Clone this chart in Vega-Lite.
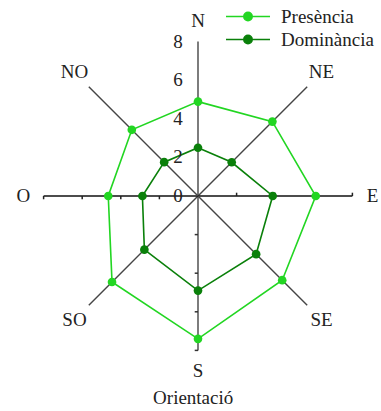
{
  "$schema": "https://vega.github.io/schema/vega-lite/v6.json",
  "width": 381,
  "height": 411,
  "autosize": {"type": "none"},
  "padding": 0,
  "background": "white",
  "config": {"view": {"stroke": null}, "font": "Liberation Serif, Times New Roman, serif"},
  "datasets": {
    "dirs": [
      {"dir": "N"}, {"dir": "NE"}, {"dir": "E"}, {"dir": "SE"},
      {"dir": "S"}, {"dir": "SO"}, {"dir": "O"}, {"dir": "NO"}
    ],
    "series": [
      {"serie": "Presència", "dir": "N", "valor": 4.89},
      {"serie": "Presència", "dir": "NE", "valor": 5.45},
      {"serie": "Presència", "dir": "E", "valor": 6.1},
      {"serie": "Presència", "dir": "SE", "valor": 6.17},
      {"serie": "Presència", "dir": "S", "valor": 7.4},
      {"serie": "Presència", "dir": "SO", "valor": 6.3},
      {"serie": "Presència", "dir": "O", "valor": 4.65},
      {"serie": "Presència", "dir": "NO", "valor": 4.85},
      {"serie": "Dominància", "dir": "N", "valor": 2.5},
      {"serie": "Dominància", "dir": "NE", "valor": 2.47},
      {"serie": "Dominància", "dir": "E", "valor": 3.87},
      {"serie": "Dominància", "dir": "SE", "valor": 4.26},
      {"serie": "Dominància", "dir": "S", "valor": 4.9},
      {"serie": "Dominància", "dir": "SO", "valor": 3.93},
      {"serie": "Dominància", "dir": "O", "valor": 2.88},
      {"serie": "Dominància", "dir": "NO", "valor": 2.48}
    ],
    "ticksH": [{"t": -8}, {"t": -6}, {"t": -4}, {"t": -2}, {"t": 2}, {"t": 4}, {"t": 6}, {"t": 8}],
    "ticksV": [{"t": -2}, {"t": -4}, {"t": -6}, {"t": -8}],
    "labelsR": [{"t": 0}, {"t": 2}, {"t": 4}, {"t": 6}, {"t": 8}]
  },
  "layer": [
    {
      "data": {"name": "dirs"},
      "transform": [
        {"calculate": "indexof(['N','NE','E','SE','S','SO','O','NO'], datum.dir) * PI / 4", "as": "a"},
        {"calculate": "8 * sin(datum.a)", "as": "ex"},
        {"calculate": "8 * cos(datum.a)", "as": "ey"},
        {"calculate": "0", "as": "z"}
      ],
      "mark": {"type": "rule", "strokeWidth": 1.4},
      "encoding": {
        "x": {"field": "z", "type": "quantitative", "scale": {"domain": [-10.259, 9.482], "nice": false, "zero": false}, "axis": null},
        "y": {"field": "z", "type": "quantitative", "scale": {"domain": [-11.14, 10.155], "nice": false, "zero": false}, "axis": null},
        "x2": {"field": "ex"},
        "y2": {"field": "ey"},
        "color": {"condition": {"test": "datum.dir == 'E' || datum.dir == 'O'", "value": "#111111"}, "value": "#454545"}
      }
    },
    {
      "data": {"name": "ticksH"},
      "transform": [
        {"calculate": "datum.t < 0 ? -0.17 : 0.17", "as": "te"},
        {"calculate": "0", "as": "z"}
      ],
      "mark": {"type": "rule", "color": "#222222", "strokeWidth": 1.5},
      "encoding": {
        "x": {"field": "t", "type": "quantitative", "scale": {"domain": [-10.259, 9.482], "nice": false, "zero": false}, "axis": null},
        "y": {"field": "z", "type": "quantitative", "scale": {"domain": [-11.14, 10.155], "nice": false, "zero": false}, "axis": null},
        "y2": {"field": "te"}
      }
    },
    {
      "data": {"name": "ticksV"},
      "transform": [
        {"calculate": "-0.17", "as": "tx"},
        {"calculate": "0", "as": "z"}
      ],
      "mark": {"type": "rule", "color": "#333333", "strokeWidth": 1.5},
      "encoding": {
        "x": {"field": "tx", "type": "quantitative", "scale": {"domain": [-10.259, 9.482], "nice": false, "zero": false}, "axis": null},
        "x2": {"field": "z"},
        "y": {"field": "t", "type": "quantitative", "scale": {"domain": [-11.14, 10.155], "nice": false, "zero": false}, "axis": null}
      }
    },
    {
      "data": {"name": "series"},
      "transform": [
        {"calculate": "indexof(['N','NE','E','SE','S','SO','O','NO'], datum.dir)", "as": "idx"},
        {"calculate": "datum.valor * sin(datum.idx * PI / 4)", "as": "px"},
        {"calculate": "datum.valor * cos(datum.idx * PI / 4)", "as": "py"}
      ],
      "mark": {"type": "line", "interpolate": "linear-closed", "strokeWidth": 1.6},
      "encoding": {
        "x": {"field": "px", "type": "quantitative", "scale": {"domain": [-10.259, 9.482], "nice": false, "zero": false}, "axis": null},
        "y": {"field": "py", "type": "quantitative", "scale": {"domain": [-11.14, 10.155], "nice": false, "zero": false}, "axis": null},
        "order": {"field": "idx", "type": "quantitative"},
        "color": {
          "field": "serie", "type": "nominal",
          "scale": {"domain": ["Presència", "Dominància"], "range": ["#22d622", "#0a800a"]},
          "legend": {
            "title": null,
            "orient": "none",
            "legendX": 225,
            "legendY": 5,
            "padding": 0,
            "symbolType": "M-1,0H1M0,-0.19A0.19,0.19,0,1,1,0,0.19A0.19,0.19,0,1,1,0,-0.19Z",
            "symbolSize": 1936,
            "symbolStrokeWidth": 1.6,
            "clipHeight": 23,
            "labelFont": "Liberation Serif, Times New Roman, serif",
            "labelFontSize": 19,
            "labelColor": "#222222",
            "labelOffset": 10,
            "rowPadding": 0,
            "encode": {
              "symbols": {"update": {"stroke": {"scale": "color", "field": "value"}, "fill": {"scale": "color", "field": "value"}, "opacity": {"value": 1}}}
            }
          }
        }
      }
    },
    {
      "data": {"name": "series"},
      "transform": [
        {"calculate": "indexof(['N','NE','E','SE','S','SO','O','NO'], datum.dir)", "as": "idx"},
        {"calculate": "datum.valor * sin(datum.idx * PI / 4)", "as": "px"},
        {"calculate": "datum.valor * cos(datum.idx * PI / 4)", "as": "py"}
      ],
      "mark": {"type": "point", "filled": true, "shape": "circle", "size": 75, "opacity": 1},
      "encoding": {
        "x": {"field": "px", "type": "quantitative", "scale": {"domain": [-10.259, 9.482], "nice": false, "zero": false}, "axis": null},
        "y": {"field": "py", "type": "quantitative", "scale": {"domain": [-11.14, 10.155], "nice": false, "zero": false}, "axis": null},
        "color": {
          "field": "serie", "type": "nominal",
          "scale": {"domain": ["Presència", "Dominància"], "range": ["#22d622", "#0a800a"]},
          "legend": {
            "title": null,
            "orient": "none",
            "legendX": 225,
            "legendY": 5,
            "padding": 0,
            "symbolType": "M-1,0H1M0,-0.19A0.19,0.19,0,1,1,0,0.19A0.19,0.19,0,1,1,0,-0.19Z",
            "symbolSize": 1936,
            "symbolStrokeWidth": 1.6,
            "clipHeight": 23,
            "labelFont": "Liberation Serif, Times New Roman, serif",
            "labelFontSize": 19,
            "labelColor": "#222222",
            "labelOffset": 10,
            "rowPadding": 0,
            "encode": {
              "symbols": {"update": {"stroke": {"scale": "color", "field": "value"}, "fill": {"scale": "color", "field": "value"}, "opacity": {"value": 1}}}
            }
          }
        }
      }
    },
    {
      "data": {"name": "dirs"},
      "transform": [
        {"calculate": "indexof(['N','NE','E','SE','S','SO','O','NO'], datum.dir) * PI / 4", "as": "a"},
        {"calculate": "9.05 * sin(datum.a)", "as": "lx"},
        {"calculate": "9.05 * cos(datum.a)", "as": "ly"}
      ],
      "mark": {"type": "text", "font": "Liberation Serif, Times New Roman, serif", "fontSize": 19, "color": "#222222", "align": "center", "baseline": "middle"},
      "encoding": {
        "x": {"field": "lx", "type": "quantitative", "scale": {"domain": [-10.259, 9.482], "nice": false, "zero": false}, "axis": null},
        "y": {"field": "ly", "type": "quantitative", "scale": {"domain": [-11.14, 10.155], "nice": false, "zero": false}, "axis": null},
        "text": {"field": "dir"}
      }
    },
    {
      "data": {"name": "labelsR"},
      "transform": [{"calculate": "-1.03", "as": "lx"}],
      "mark": {"type": "text", "font": "Liberation Serif, Times New Roman, serif", "fontSize": 19, "color": "#222222", "align": "center", "baseline": "middle"},
      "encoding": {
        "x": {"field": "lx", "type": "quantitative", "scale": {"domain": [-10.259, 9.482], "nice": false, "zero": false}, "axis": null},
        "y": {"field": "t", "type": "quantitative", "scale": {"domain": [-11.14, 10.155], "nice": false, "zero": false}, "axis": null},
        "text": {"field": "t"}
      }
    },
    {
      "data": {"values": [{"titol": "Orientació"}]},
      "transform": [{"calculate": "-0.25", "as": "tx"}, {"calculate": "-10.45", "as": "ty"}],
      "mark": {"type": "text", "font": "Liberation Serif, Times New Roman, serif", "fontSize": 19, "color": "#222222", "align": "center", "baseline": "middle"},
      "encoding": {
        "x": {"field": "tx", "type": "quantitative", "scale": {"domain": [-10.259, 9.482], "nice": false, "zero": false}, "axis": null},
        "y": {"field": "ty", "type": "quantitative", "scale": {"domain": [-11.14, 10.155], "nice": false, "zero": false}, "axis": null},
        "text": {"field": "titol"}
      }
    }
  ]
}
